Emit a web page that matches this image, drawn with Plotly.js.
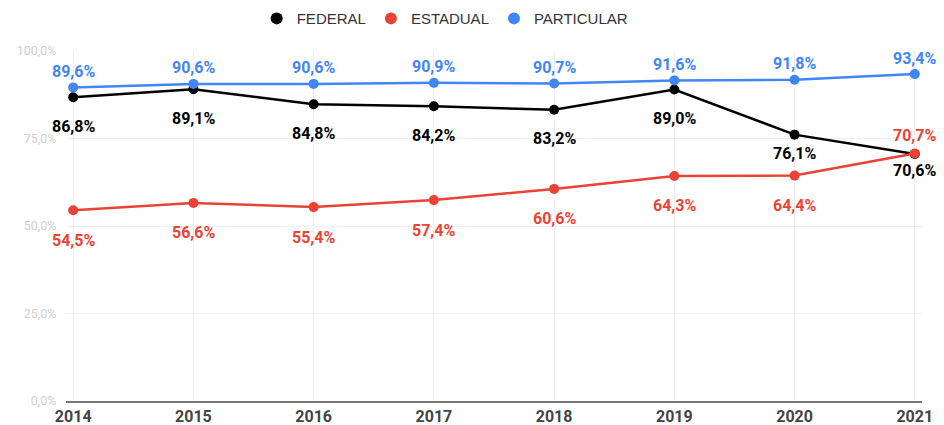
<!DOCTYPE html>
<html><head><meta charset="utf-8">
<script src="https://cdn.plot.ly/plotly-3.0.1.min.js"></script>
<style>html,body{margin:0;padding:0;background:#fff}#chart{width:944px;height:425px}</style>
</head><body><div id="chart"></div>
<script>
const years = [2014, 2015, 2016, 2017, 2018, 2019, 2020, 2021];
const federal = [86.8, 89.1, 84.8, 84.2, 83.2, 89.0, 76.1, 70.6];
const estadual = [54.5, 56.6, 55.4, 57.4, 60.6, 64.3, 64.4, 70.7];
const particular = [89.6, 90.6, 90.6, 90.9, 90.7, 91.6, 91.8, 93.4];
const seriesNames = ['FEDERAL', 'ESTADUAL', 'PARTICULAR'];
const yTicks = [0, 25, 50, 75, 100];

const colors = {FEDERAL: '#000000', ESTADUAL: '#ea4335', PARTICULAR: '#4285f4'};
const seriesData = {FEDERAL: federal, ESTADUAL: estadual, PARTICULAR: particular};
// label placement style: default shift per series, plus overrides by index
const labelShift = {FEDERAL: -29, ESTADUAL: -30, PARTICULAR: 16};
const labelOverride = {FEDERAL: {6: -19, 7: -17}, ESTADUAL: {7: 18}};

const fmt = v => v.toFixed(1).replace('.', ',') + '%';

const traces = [];
const annotations = [];
seriesNames.forEach(name => {
  const vals = seriesData[name];
  traces.push({x: years, y: vals, type: 'scatter', mode: 'lines', name: name,
    line: {color: colors[name], width: 2.5}, showlegend: false, hoverinfo: 'skip'});
  traces.push({x: years, y: vals, type: 'scatter', mode: 'markers', name: name,
    marker: {color: colors[name], size: 10}, showlegend: true, hoverinfo: 'skip'});
  vals.forEach((v, i) => {
    const ov = labelOverride[name] && labelOverride[name][i] !== undefined ? labelOverride[name][i] : labelShift[name];
    annotations.push({x: years[i], y: v, xref: 'x', yref: 'y', text: '<b>' + fmt(v) + '</b>',
      showarrow: false, yshift: ov, font: {family: 'Roboto', size: 16, color: colors[name]}});
  });
});

const layout = {
  width: 944, height: 425,
  margin: {l: 66, r: 22, t: 51, b: 24},
  paper_bgcolor: '#fff', plot_bgcolor: '#fff',
  separators: ',.',
  showlegend: true,
  legend: {orientation: 'h', x: 0.443, xanchor: 'center', xref: 'paper', y: 0.995, yref: 'container', yanchor: 'top',
    font: {family: 'Liberation Sans, Arial', size: 15, color: '#333'}, itemsizing: 'constant', traceorder: 'normal'},
  xaxis: {range: [2013.94, 2021.06], tickmode: 'array', tickvals: years, ticktext: years.map(String),
    showgrid: true, gridcolor: '#efefef', gridwidth: 1, zeroline: false,
    showline: true, linecolor: '#777', linewidth: 2,
    ticks: '',
    tickfont: {family: 'Roboto', size: 16, color: '#444', weight: 700}, fixedrange: true},
  yaxis: {range: [0, 100], tickmode: 'array', tickvals: yTicks, ticktext: yTicks.map(fmt),
    showgrid: true, gridcolor: '#f0f0f0', gridwidth: 1, zeroline: false, showline: false,
    ticks: 'outside', ticklen: 6, tickcolor: 'rgba(0,0,0,0)',
    tickfont: {family: 'Roboto', size: 12.5, color: '#cfcfcf'}, fixedrange: true},
  annotations: annotations
};
Plotly.newPlot('chart', traces, layout, {displayModeBar: false, staticPlot: true});
</script></body></html>
